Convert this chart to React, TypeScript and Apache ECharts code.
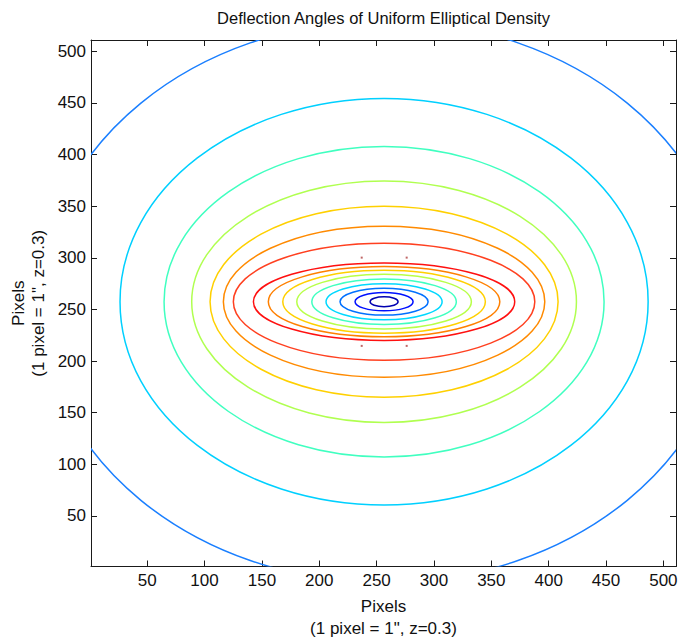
import React, { useEffect, useRef } from "react";
import * as echarts from "echarts";

// Contour ellipses (outermost to innermost), values in pixel units
const centerX = [256.5, 256.5, 256.5, 256.5, 256.5, 256.5, 256.5, 256.5, 256.5, 256.5, 256.5, 256.5, 256.5, 256.5, 256.5, 256.5];
const centerY = [257.5, 257.5, 257.5, 257.5, 257.5, 257.5, 257.5, 257.5, 257.5, 257.5, 257.5, 257.5, 257.5, 257.5, 257.5, 257.5];
const semiAxisX = [299.8, 230.2, 191.8, 167.7, 151.7, 140.1, 131.4, 113.9, 100.9, 88.3, 76.1, 63.0, 50.6, 38.4, 25.3, 12.2];
const semiAxisY = [272.1, 196.9, 150.4, 117.0, 92.5, 73.2, 56.7, 37.5, 34.0, 30.5, 26.5, 22.0, 17.5, 13.0, 8.8, 4.8];
const contourColors = [
  "#1a7fff", "#00d0ff", "#40ffc0", "#b0ff50", "#ffd000", "#ff8a00", "#ff4020", "#ff1010",
  "#ff8000", "#ffd000", "#b8ff48", "#40ffc0", "#00d8ff", "#0070ff", "#0010ff", "#0000b0",
];
// tiny isolated contour points
const dotX = [237, 276.2, 237, 276.2];
const dotY = [300.2, 300.2, 214.7, 214.7];

const xTicks = [50, 100, 150, 200, 250, 300, 350, 400, 450, 500];
const yTicks = [50, 100, 150, 200, 250, 300, 350, 400, 450, 500];

const FONT = "'Liberation Sans', Arial, sans-serif";
const AXIS_COLOR = "#1a1a1a";

export default function App() {
  const ref = useRef<HTMLDivElement>(null);
  useEffect(() => {
    document.body.style.margin = "0";
    if (!ref.current) return;
    const chart = echarts.init(ref.current, undefined, { renderer: "svg" });
    const ellipseData = semiAxisX.map((a, i) => [centerX[i], centerY[i], a, semiAxisY[i]]);
    const dots = dotX.map((x, i) => [x, dotY[i]]);

    const tick = (vals: number[]) => ({
      show: true,
      inside: true,
      length: 6,
      lineStyle: { color: AXIS_COLOR },
      customValues: vals,
    });
    const label = (vals: number[], show: boolean) => ({
      show,
      color: "#111",
      fontSize: 17,
      fontFamily: FONT,
      margin: 5,
      customValues: vals,
    });
    const common = {
      type: "value" as const,
      min: 1,
      max: 511,
      axisLine: { show: true, onZero: false, lineStyle: { color: AXIS_COLOR, width: 1 } },
      splitLine: { show: false },
    };

    chart.setOption({
      animation: false,
      backgroundColor: "#ffffff",
      title: {
        text: "Deflection Angles of Uniform Elliptical Density",
        left: 383.5,
        top: 9,
        padding: 0,
        textAlign: "center",
        textStyle: { fontSize: 16.5, fontWeight: "normal", color: "#111", fontFamily: FONT },
      },
      grid: { left: 91, right: 2, top: 40, bottom: 73.5, containLabel: false, outerBoundsMode: "none" },
      xAxis: [
        {
          ...common,
          position: "bottom",
          axisTick: tick(xTicks),
          axisLabel: label(xTicks, true),
          name: "Pixels\n(1 pixel = 1\", z=0.3)",
          nameLocation: "middle",
          nameGap: 28.5,
          nameTextStyle: { fontSize: 17, color: "#111", fontFamily: FONT, lineHeight: 22 },
        },
        {
          ...common,
          position: "top",
          axisTick: tick(xTicks),
          axisLabel: label(xTicks, false),
        },
      ],
      yAxis: [
        {
          ...common,
          position: "left",
          axisTick: tick(yTicks),
          axisLabel: label(yTicks, true),
          name: "Pixels\n(1 pixel = 1\", z=0.3)",
          nameLocation: "middle",
          nameRotate: 90,
          nameGap: 43,
          nameMoveOverlap: false,
          nameTextStyle: { fontSize: 17, color: "#111", fontFamily: FONT, lineHeight: 20 },
        },
        {
          ...common,
          position: "right",
          axisTick: tick(yTicks),
          axisLabel: label(yTicks, false),
        },
      ],
      series: [
        {
          type: "custom",
          silent: true,
          xAxisIndex: 0,
          yAxisIndex: 0,
          data: ellipseData,
          encode: { x: 0, y: 1 },
          renderItem: (params: any, api: any) => {
            const c = api.coord([api.value(0), api.value(1)]);
            const s = api.size([api.value(2), api.value(3)]);
            const cs = params.coordSys;
            return {
              type: "ellipse",
              shape: { cx: c[0], cy: c[1], rx: s[0], ry: s[1] },
              style: { fill: "none", stroke: contourColors[params.dataIndex], lineWidth: 1.5 },
              clipPath: { type: "rect", shape: { x: cs.x, y: cs.y, width: cs.width, height: cs.height } },
            };
          },
        },
        {
          type: "scatter",
          silent: true,
          data: dots,
          symbol: "rect",
          symbolSize: 2,
          itemStyle: { color: "#b04040" },
        },
      ],
    });
    return () => chart.dispose();
  }, []);
  return <div ref={ref} style={{ width: 678, height: 640 }} />;
}
